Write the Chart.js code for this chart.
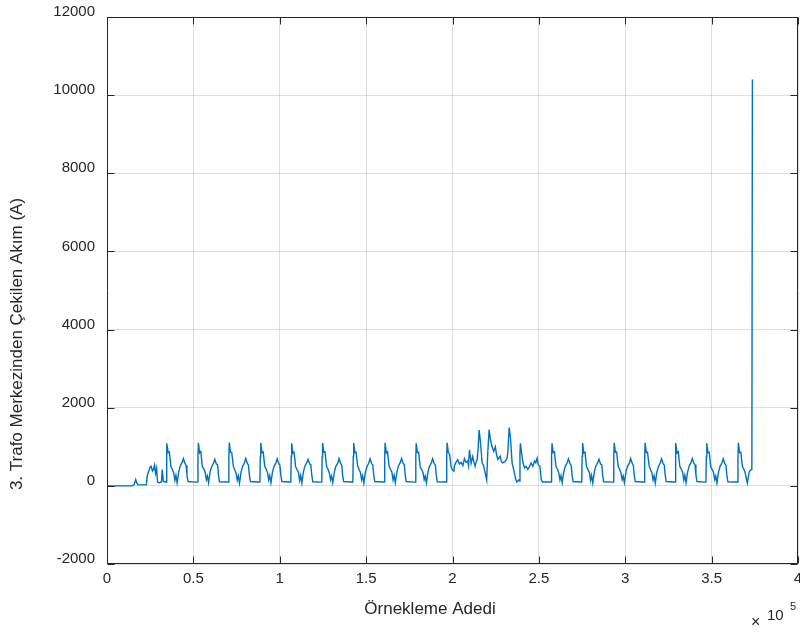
<!DOCTYPE html>
<html>
<head>
<meta charset="utf-8">
<script src="https://cdn.jsdelivr.net/npm/chart.js@4.4.1/dist/chart.umd.min.js"></script>
<style>
  html, body { margin: 0; padding: 0; background: #ffffff; }
  #c { display: block; }
</style>
</head>
<body>
<canvas id="c" width="800" height="632"></canvas>
<script>
// ---- Data ----
const xTickValues = [0, 50000, 100000, 150000, 200000, 250000, 300000, 350000, 400000];
const xTickLabels = ['0', '0.5', '1', '1.5', '2', '2.5', '3', '3.5', '4'];
const yTickValues = [-2000, 0, 2000, 4000, 6000, 8000, 10000, 12000];
const yTickLabels = ['-2000', '0', '2000', '4000', '6000', '8000', '10000', '12000'];
const xTitle = 'Örnekleme Adedi';
const yTitle = '3. Trafo Merkezinden Çekilen Akım (A)';

// [sample index, current (A)]
const measured = [
  [0,0],[14500,0],[15800,40],[16600,160],[17300,70],[18000,25],[22800,25],[23400,280],[24200,380],[24900,470],
  [25600,500],[26300,380],[26900,420],[27500,530],[28100,320],[28700,450],[29300,90],[30500,80],[31500,100],[32000,420],[32600,120],[33600,100],
  [34200,100],[34450,750],[34700,1090],[35400,850],[36100,870],[37000,500],[37900,410],[38600,330],[39300,140],[39900,270],[40600,75],[41500,350],[42400,510],[43500,600],[44200,700],[45100,580],[45800,520],[46300,270],[46900,110],[51300,95],
  [52400,100],[52650,760],[52900,1100],[53600,840],[54300,880],[55200,490],[56100,430],[56800,350],[57500,160],[58100,250],[58800,80],[59700,370],[60600,490],[61700,580],[62400,680],[63300,560],[64000,540],[64500,290],[65100,105],[69500,100],
  [70300,95],[70550,740],[70800,1110],[71500,860],[72200,850],[73100,510],[74000,400],[74700,330],[75400,150],[76000,260],[76700,70],[77600,350],[78500,500],[79600,590],[80300,700],[81200,580],[81900,530],[82400,280],[83000,110],[87400,100],
  [88500,100],[88750,750],[89000,1100],[89700,850],[90400,870],[91300,500],[92200,420],[92900,340],[93600,150],[94200,260],[94900,80],[95800,360],[96700,500],[97800,590],[98500,690],[99400,570],[100100,530],[100600,280],[101200,110],[105600,100],
  [106400,100],[106650,760],[106900,1090],[107600,840],[108300,860],[109200,490],[110100,410],[110800,350],[111500,140],[112100,270],[112800,75],[113700,360],[114600,510],[115700,600],[116400,680],[117300,560],[118000,540],[118500,290],[119100,105],[123500,95],
  [124300,95],[124550,740],[124800,1100],[125500,860],[126200,870],[127100,500],[128000,420],[128700,330],[129400,160],[130000,250],[130700,80],[131600,350],[132500,500],[133600,580],[134300,700],[135200,580],[135900,520],[136400,270],[137000,110],[141400,100],
  [142300,100],[142550,750],[142800,1100],[143500,850],[144200,860],[145100,510],[146000,410],[146700,340],[147400,150],[148000,260],[148700,70],[149600,360],[150500,490],[151600,590],[152300,690],[153200,570],[153900,530],[154400,280],[155000,110],[159400,100],
  [160500,100],[160750,760],[161000,1100],[161700,840],[162400,870],[163300,500],[164200,420],[164900,350],[165600,150],[166200,270],[166900,80],[167800,350],[168700,510],[169800,600],[170500,700],[171400,580],[172100,540],[172600,290],[173200,110],[177600,95],
  [178500,95],[178750,750],[179000,1090],[179700,850],[180400,860],[181300,490],[182200,410],[182900,340],[183600,160],[184200,250],[184900,75],[185800,360],[186700,500],[187800,590],[188500,690],[189400,570],[190100,530],[190600,280],[191200,105],[195600,100],
  [196400,100],[196650,750],[196900,1100],[197600,850],[198300,820],[199200,480],[200100,400],[200800,380],[201100,510],[202000,600],[203000,670],[204000,560],[205000,600],[206000,520],[206900,700],[207800,600],[208800,640],[209300,520],[209800,920],[210800,580],
  [211700,750],[212400,600],[213100,500],[213700,620],[214300,670],[214900,1000],[215400,1430],[216000,1200],[216600,900],[217100,590],[217900,530],[218900,330],[219800,150],[220400,840],[221200,1440],[222000,1180],[222900,1000],[223900,880],[224800,1000],[225500,800],
  [226200,670],[227600,760],[228300,620],[229100,590],[230600,630],[231500,700],[232000,840],[232800,1490],[233500,1270],[234500,590],[235400,420],[236400,200],[237200,100],[238300,150],[238800,120],[239050,800],[239300,1090],
  [240000,840],[240800,590],[241700,460],[242700,500],[243600,420],[244600,500],[245500,590],[246500,500],[247500,640],[248200,590],[249000,710],[249600,540],[250600,500],[251400,150],[252100,100],[256100,100],
  [257100,100],[257350,750],[257600,1090],[258300,850],[259000,870],[259900,500],[260800,420],[261500,340],[262200,150],[262800,260],[263500,80],[264400,360],[265300,500],[266400,590],[267100,690],[268000,570],[268700,530],[269200,280],[269800,110],[274200,100],
  [274800,100],[275050,760],[275300,1100],[276000,840],[276700,860],[277600,490],[278500,410],[279200,350],[279900,140],[280500,270],[281200,75],[282100,360],[283000,510],[284100,600],[284800,680],[285700,560],[286400,540],[286900,290],[287500,105],[291900,95],
  [293100,95],[293350,740],[293600,1100],[294300,860],[295000,870],[295900,500],[296800,420],[297500,330],[298200,160],[298800,250],[299500,80],[300400,350],[301300,500],[302400,580],[303100,700],[304000,580],[304700,520],[305200,270],[305800,110],[310200,100],
  [311000,100],[311250,750],[311500,1100],[312200,850],[312900,860],[313800,510],[314700,410],[315400,340],[316100,150],[316700,260],[317400,70],[318300,360],[319200,490],[320300,590],[321000,690],[321900,570],[322600,530],[323100,280],[323700,110],[328100,100],
  [328800,100],[329050,760],[329300,1100],[330000,840],[330700,870],[331600,500],[332500,420],[333200,350],[333900,150],[334500,270],[335200,80],[336100,350],[337000,510],[338100,600],[338800,700],[339700,580],[340400,540],[340900,290],[341500,110],[345900,95],
  [346700,95],[346950,750],[347200,1090],[347900,850],[348600,860],[349500,490],[350400,410],[351100,340],[351800,160],[352400,250],[353100,75],[354000,360],[354900,500],[356000,590],[356700,690],[357600,570],[358300,530],[358800,280],[359400,105],[363800,100],
  [365000,100],[365250,750],[365500,1100],[366200,850],[366900,860],[367800,500],[368700,420],[369400,340],[370000,200],[370700,75],[371700,350],[372600,410],[373300,420],[373600,10400]
];

// ---- Styling ----
const FONT = '"Liberation Sans", Arial, Helvetica, sans-serif';
const TXT = '#262626';
const GRID = 'rgba(38,38,38,0.15)';
const LINE = '#0072BD';

const matlabBox = {
  id: 'matlabBox',
  afterDraw(chart) {
    const ctx = chart.ctx;
    const a = chart.chartArea;
    const xs = chart.scales.x, ys = chart.scales.y;
    ctx.save();
    ctx.strokeStyle = TXT;
    ctx.lineWidth = 1;
    const L = Math.round(a.left) + 0.5, R = Math.round(a.right) - 0.5;
    const T = Math.round(a.top) + 0.5, B = Math.round(a.bottom) - 0.5;
    ctx.beginPath();
    ctx.rect(L, T, R - L, B - T);
    ctx.stroke();
    const tl = 7;
    ctx.beginPath();
    xTickValues.forEach(v => {
      const px = Math.round(xs.getPixelForValue(v)) + 0.5;
      ctx.moveTo(px, B); ctx.lineTo(px, B - tl);
      ctx.moveTo(px, T); ctx.lineTo(px, T + tl);
    });
    yTickValues.forEach(v => {
      const py = Math.round(ys.getPixelForValue(v)) + 0.5;
      ctx.moveTo(L, py); ctx.lineTo(L + tl, py);
      ctx.moveTo(R, py); ctx.lineTo(R - tl, py);
    });
    ctx.stroke();

    // exponent label
    ctx.fillStyle = TXT;
    ctx.textBaseline = 'alphabetic';
    ctx.textAlign = 'left';
    ctx.font = '16px ' + FONT;
    ctx.fillText('\u00D7', 751, 627);
    ctx.font = '15px ' + FONT;
    ctx.fillText('10', 767, 620);
    ctx.font = '11px ' + FONT;
    ctx.fillText('5', 790, 610);

    // axis titles
    ctx.font = '17px ' + FONT;
    ctx.textAlign = 'center';
    ctx.textBaseline = 'middle';
    ctx.fillText(xTitle, 430, 609);
    ctx.translate(17, 344);
    ctx.rotate(-Math.PI / 2);
    ctx.fillText(yTitle, 0, 0);
    ctx.restore();
  }
};

new Chart(document.getElementById('c'), {
  type: 'line',
  data: {
    datasets: [{
      data: measured.map(p => ({ x: p[0], y: p[1] })),
      borderColor: LINE,
      borderWidth: 1.4,
      pointRadius: 0,
      tension: 0,
      fill: false
    }]
  },
  options: {
    responsive: false,
    animation: false,
    events: [],
    layout: { padding: { top: 17, right: 2, left: 0, bottom: 0 } },
    plugins: { legend: { display: false }, tooltip: { enabled: false } },
    scales: {
      x: {
        type: 'linear',
        min: 0, max: 400000,
        afterBuildTicks(s) { s.ticks = xTickValues.map(v => ({ value: v })); },
        afterFit(s) { s.height = 68; s.paddingLeft = 0; s.paddingRight = 0; },
        ticks: {
          autoSkip: false, maxRotation: 0, padding: 6,
          color: TXT, font: { family: FONT, size: 15 },
          callback: (v) => { const i = xTickValues.indexOf(v); return i >= 0 ? xTickLabels[i] : ''; }
        },
        grid: { color: GRID, drawTicks: false, lineWidth: 1 },
        border: { display: false }
      },
      y: {
        type: 'linear',
        min: -2000, max: 12000,
        afterBuildTicks(s) { s.ticks = yTickValues.map(v => ({ value: v })); },
        afterFit(s) { s.width = 107; s.paddingTop = 0; s.paddingBottom = 0; },
        ticks: {
          autoSkip: false, padding: 12, labelOffset: -5,
          color: TXT, font: { family: FONT, size: 15 },
          callback: (v) => { const i = yTickValues.indexOf(v); return i >= 0 ? yTickLabels[i] : ''; }
        },
        grid: { color: GRID, drawTicks: false, lineWidth: 1 },
        border: { display: false }
      }
    }
  },
  plugins: [matlabBox]
});
</script>
</body>
</html>
